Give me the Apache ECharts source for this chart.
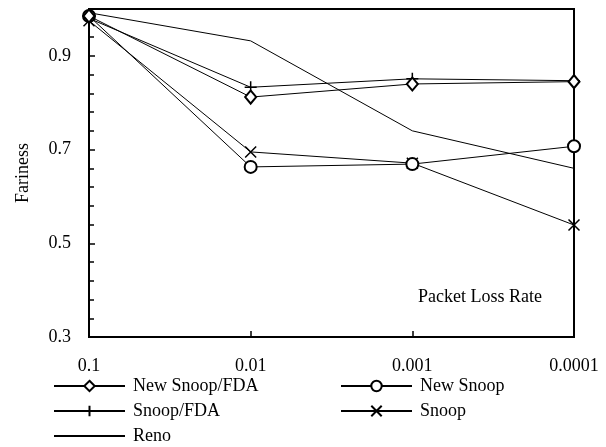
<!DOCTYPE html>
<html>
<head>
<meta charset="utf-8">
<script src="https://cdn.jsdelivr.net/npm/echarts@6/dist/echarts.min.js"></script>
<style>html,body{margin:0;padding:0;background:#fff;}#c{width:606px;height:447px;}</style>
</head>
<body>
<div id="c"></div>
<script>
const categories = ['0.1', '0.01', '0.001', '0.0001'];
const newSnoopFDA = [0.985, 0.812, 0.840, 0.845];
const newSnoop = [0.985, 0.663, 0.669, 0.707];
const snoopFDA = [0.980, 0.833, 0.851, 0.847];
const snoop = [0.975, 0.695, 0.671, 0.539];
const reno = [0.992, 0.932, 0.740, 0.660];
const yTicks = { min: 0.3, max: 1.0, interval: 0.2 };

const FONT = 'Liberation Serif';
const plusPath = 'path://M5,0L5,10M0,5L10,5';
const crossPath = 'path://M0,0L10,10M10,0L0,10';

function mk(name, data, symbol, size, showSym, extraItem) {
  return {
    name, type: 'line', data, symbol, symbolSize: size, showSymbol: showSym,
    lineStyle: { color: '#000', width: 1 },
    itemStyle: Object.assign({ color: '#000', borderColor: '#000', borderWidth: 1.5 }, extraItem || {}),
    animation: false, z: 3
  };
}

const chart = echarts.init(document.getElementById('c'), null, { renderer: 'canvas' });
chart.setOption({
  animation: false,
  textStyle: { fontFamily: FONT },
  grid: { left: 89, right: 32, top: 9, bottom: 110, show: true, borderColor: '#000', borderWidth: 2, backgroundColor: 'transparent' },
  xAxis: {
    type: 'category', data: categories, boundaryGap: false,
    axisLine: { lineStyle: { color: '#000', width: 2 } },
    axisTick: { inside: true, length: 6, lineStyle: { color: '#000', width: 1.5 }, alignWithLabel: true },
    axisLabel: { color: '#000', fontSize: 18, fontFamily: FONT, margin: 20 },
    splitLine: { show: false }
  },
  yAxis: {
    type: 'value', min: yTicks.min, max: yTicks.max, interval: yTicks.interval,
    name: 'Fariness', nameLocation: 'middle', nameGap: 57,
    nameTextStyle: { color: '#000', fontSize: 18, fontFamily: FONT },
    axisLine: { show: true, lineStyle: { color: '#000', width: 2 } },
    axisTick: { show: true, inside: true, length: 6, lineStyle: { color: '#000', width: 1.5 } },
    minorTick: { show: true, splitNumber: 5, length: 5, lineStyle: { color: '#000', width: 1.5 } },
    axisLabel: { color: '#000', fontSize: 18, fontFamily: FONT, margin: 18, showMaxLabel: false,
      formatter: v => v.toFixed(1) },
    splitLine: { show: false }
  },
  legend: [
    { orient: 'vertical', left: 53, top: 377, height: 70, padding: 0, itemWidth: 71, itemHeight: 13, itemGap: 7,
      textStyle: { color: '#000', fontSize: 18, fontFamily: FONT, padding: [0, 0, 0, 3] },
      data: ['New Snoop/FDA', 'Snoop/FDA', { name: 'Reno', itemStyle: { opacity: 0 } }] },
    { orient: 'vertical', left: 340, top: 377, height: 70, padding: 0, itemWidth: 71, itemHeight: 13, itemGap: 7,
      textStyle: { color: '#000', fontSize: 18, fontFamily: FONT, padding: [0, 0, 0, 3] },
      data: ['New Snoop', 'Snoop'] }
  ],
  graphic: [
    { type: 'text', left: 418, top: 288, style: { text: 'Packet Loss Rate', font: '18px "Liberation Serif"', fill: '#000' } }
  ],
  series: [
    mk('Reno', reno, 'circle', 0, false),
    mk('Snoop', snoop, crossPath, 11, true),
    mk('New Snoop', newSnoop, 'emptyCircle', 12, true),
    mk('Snoop/FDA', snoopFDA, plusPath, 12, true),
    mk('New Snoop/FDA', newSnoopFDA, 'emptyDiamond', [11, 13], true)
  ]
});
</script>
</body>
</html>
